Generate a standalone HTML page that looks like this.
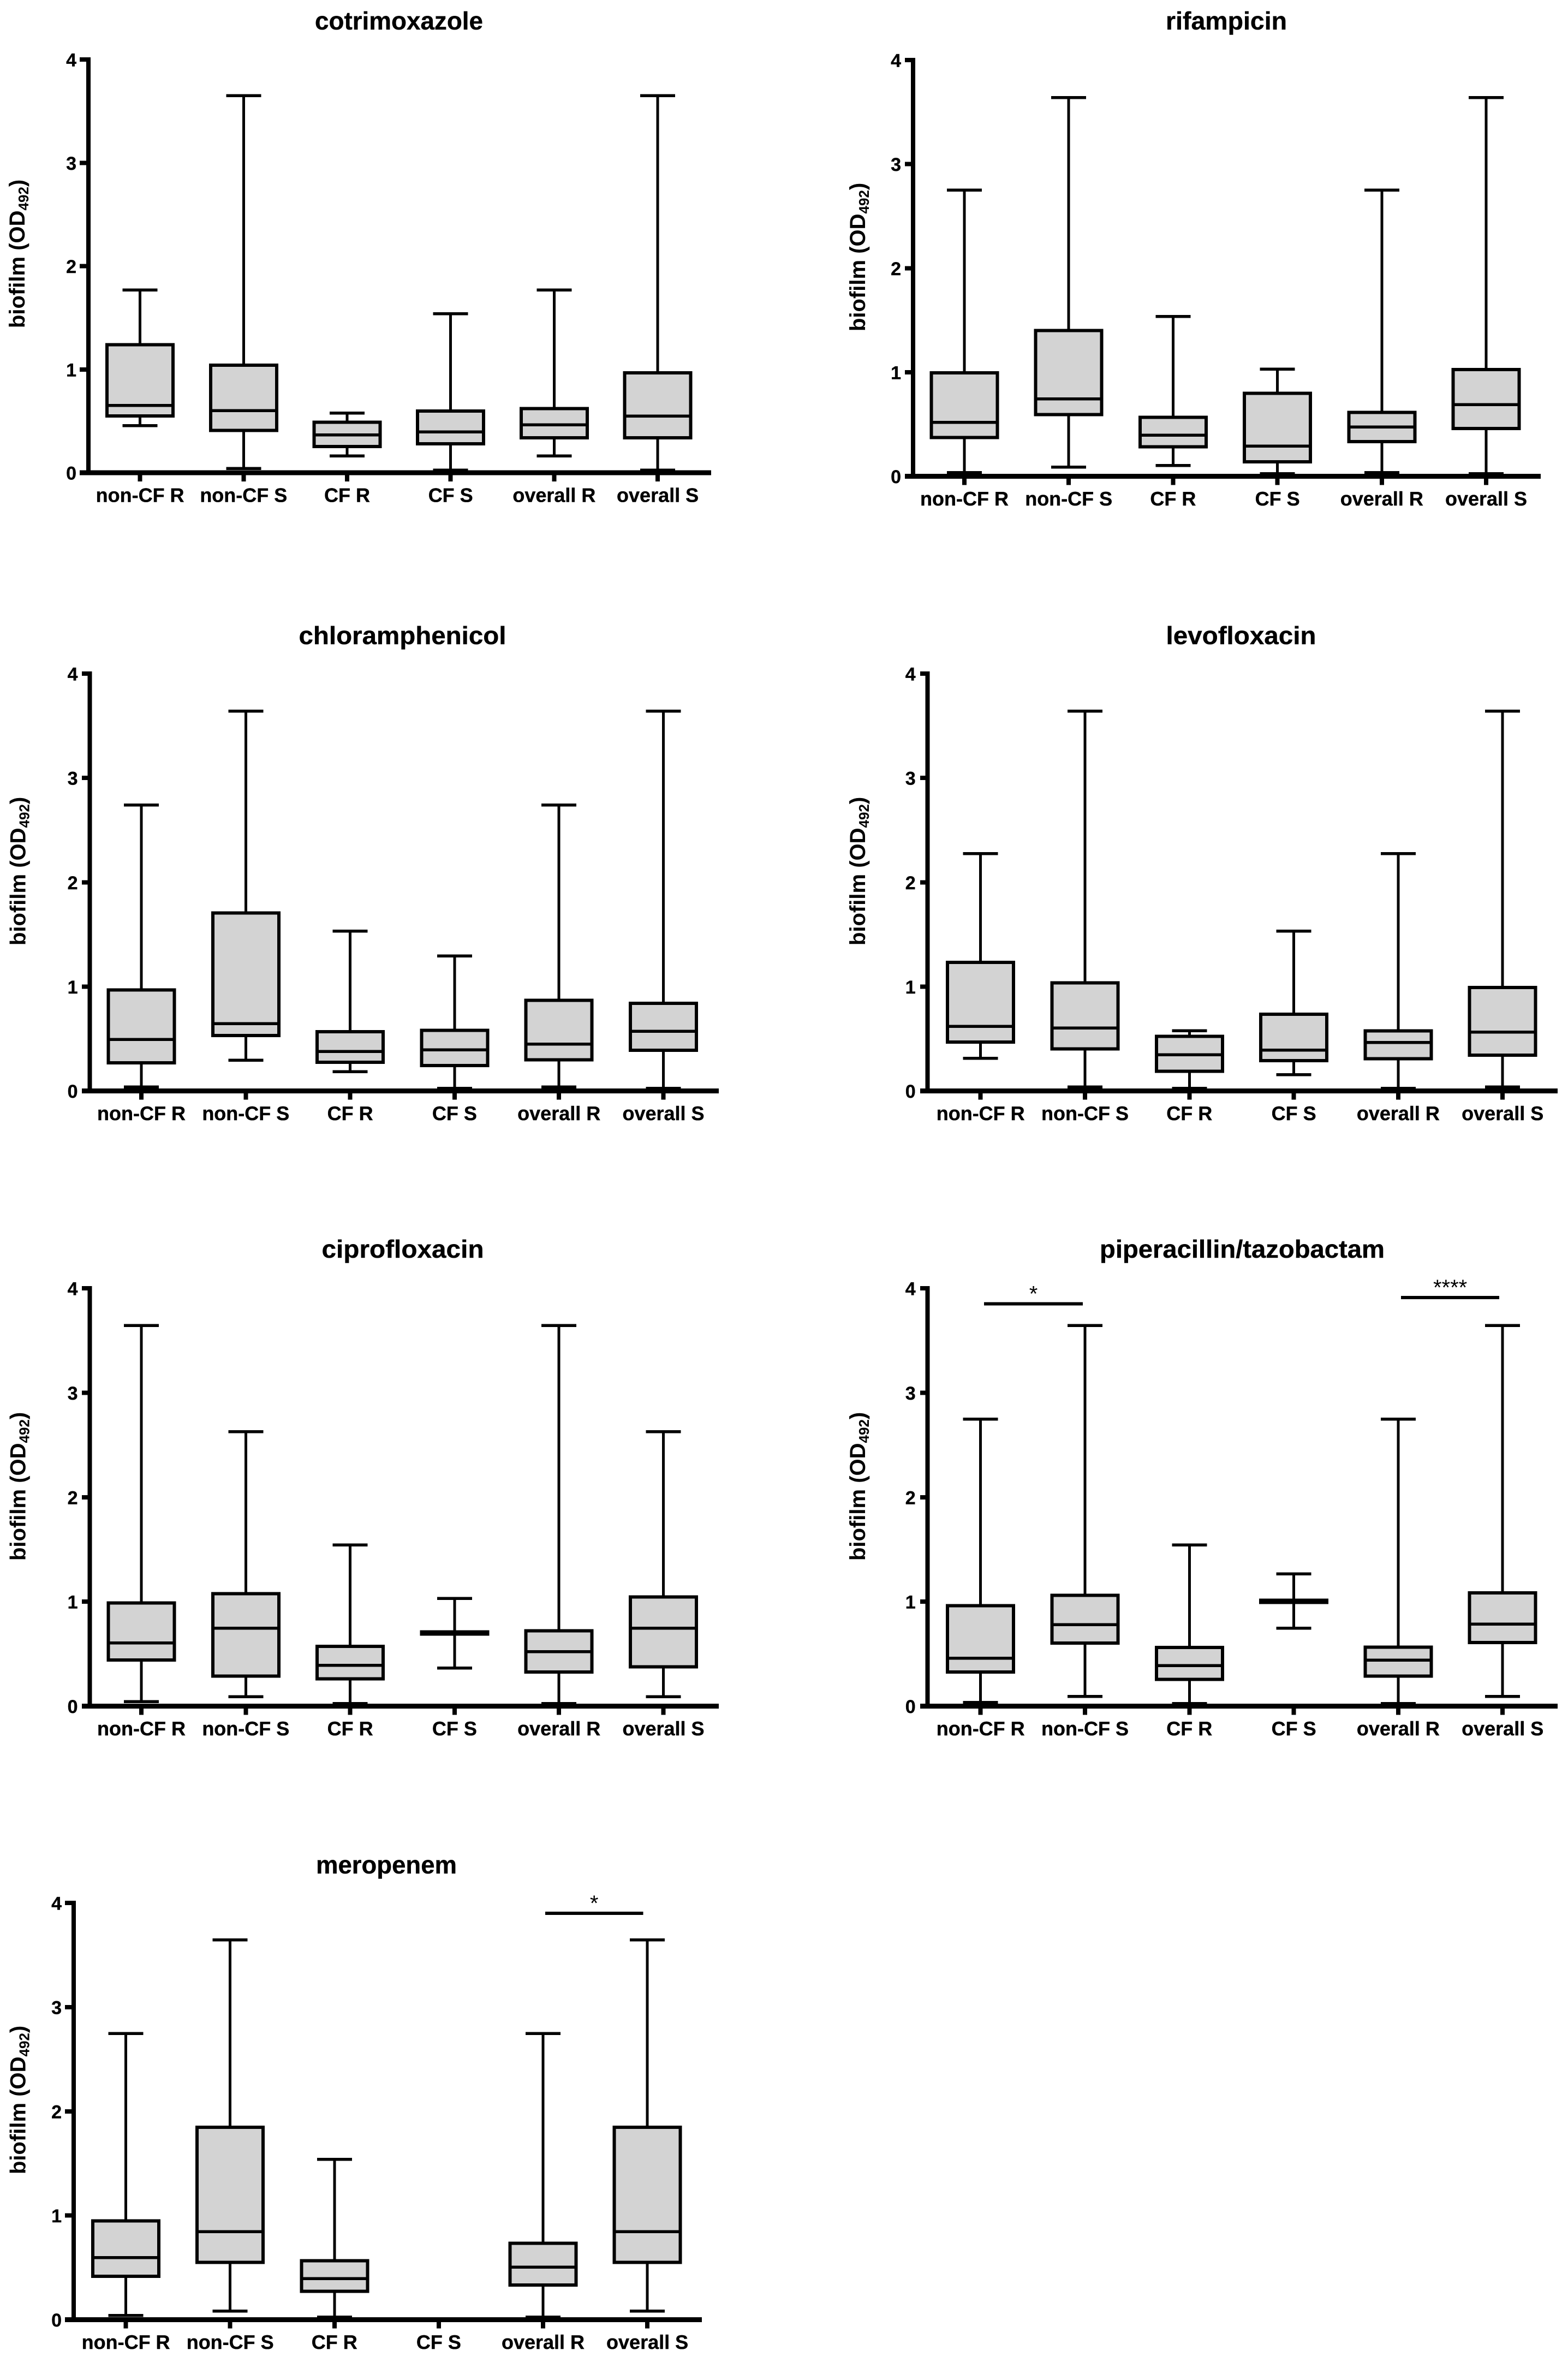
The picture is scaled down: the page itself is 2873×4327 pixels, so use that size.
<!DOCTYPE html>
<html lang="en">
<head>
<meta charset="utf-8">
<title>Biofilm formation by antibiotic susceptibility</title>
<style>
html,body{margin:0;padding:0;background:#fff;}
svg{display:block;}
text{font-family:"Liberation Sans",Arial,sans-serif;fill:#000;text-rendering:geometricPrecision;}
.title{font-size:46px;font-weight:700;text-anchor:middle;stroke:#000;stroke-width:.4px;}
.ytick{font-size:34px;font-weight:700;text-anchor:end;stroke:#000;stroke-width:.4px;}
.xtick{font-size:36px;font-weight:700;text-anchor:middle;stroke:#000;stroke-width:.4px;}
.ylabel{font-size:40px;font-weight:700;}
.star{font-size:40px;text-anchor:middle;}
</style>
</head>
<body>
<svg id="fig" xmlns="http://www.w3.org/2000/svg" width="2873" height="4327" viewBox="0 0 2873 4327">
<rect x="0" y="0" width="2873" height="4327" fill="#ffffff"/>
</svg>
<script>
const categories = ['non-CF R','non-CF S','CF R','CF S','overall R','overall S'];
const yTickValues = [0,1,2,3,4];

const cotrimoxazoleHigh = [1.77,3.65,0.577,1.54,1.77,3.65];
const cotrimoxazoleQ3 = [1.24,1.04,0.49,0.596,0.62,0.966];
const cotrimoxazoleMedian = [0.65,0.60,0.366,0.395,0.464,0.548];
const cotrimoxazoleQ1 = [0.55,0.41,0.253,0.279,0.337,0.337];
const cotrimoxazoleLow = [0.457,0.042,0.162,0.026,0.162,0.026];

const rifampicinHigh = [2.75,3.64,1.537,1.03,2.75,3.64];
const rifampicinQ3 = [0.994,1.40,0.566,0.797,0.614,1.026];
const rifampicinMedian = [0.518,0.743,0.395,0.289,0.473,0.688];
const rifampicinQ1 = [0.373,0.592,0.283,0.138,0.334,0.46];
const rifampicinLow = [0.035,0.087,0.103,0.026,0.035,0.026];

const chloramphenicolHigh = [2.74,3.64,1.533,1.293,2.74,3.64];
const chloramphenicolQ3 = [0.969,1.706,0.568,0.581,0.869,0.84];
const chloramphenicolMedian = [0.494,0.645,0.379,0.395,0.449,0.571];
const chloramphenicolQ1 = [0.269,0.532,0.276,0.244,0.298,0.391];
const chloramphenicolLow = [0.038,0.295,0.186,0.026,0.038,0.026];

const levofloxacinHigh = [2.274,3.64,0.577,1.533,2.274,3.64];
const levofloxacinQ3 = [1.232,1.036,0.523,0.735,0.577,0.991];
const levofloxacinMedian = [0.619,0.603,0.346,0.391,0.465,0.565];
const levofloxacinQ1 = [0.468,0.404,0.189,0.292,0.308,0.343];
const levofloxacinLow = [0.314,0.038,0.026,0.157,0.026,0.038];

const ciprofloxacinHigh = [3.644,2.628,1.542,1.032,3.644,2.628];
const ciprofloxacinQ3 = [0.987,1.077,0.571,0.71,0.721,1.045];
const ciprofloxacinMedian = [0.606,0.747,0.391,0.70,0.522,0.747];
const ciprofloxacinQ1 = [0.442,0.288,0.26,0.69,0.327,0.375];
const ciprofloxacinLow = [0.042,0.09,0.026,0.365,0.026,0.09];

const piperacillinHigh = [2.747,3.644,1.542,1.266,2.747,3.644];
const piperacillinQ3 = [0.962,1.061,0.561,1.013,0.564,1.083];
const piperacillinMedian = [0.458,0.779,0.388,1.003,0.439,0.785];
const piperacillinQ1 = [0.327,0.603,0.256,0.993,0.288,0.609];
const piperacillinLow = [0.035,0.093,0.026,0.747,0.026,0.093];

const meropenemHigh = [2.748,3.645,1.54,null,2.748,3.645];
const meropenemQ3 = [0.948,1.848,0.567,null,0.733,1.848];
const meropenemMedian = [0.596,0.845,0.394,null,0.506,0.845];
const meropenemQ1 = [0.416,0.551,0.272,null,0.333,0.551];
const meropenemLow = [0.042,0.083,0.026,null,0.026,0.083];

const piperacillinSigFrom = [0.033,4.027];
const piperacillinSigTo = [0.98,4.968];
const piperacillinSigLevel = [3.85,3.91];
const piperacillinSigLabel = ['*','****'];
const meropenemSigFrom = [4.02];
const meropenemSigTo = [4.96];
const meropenemSigLevel = [3.90];
const meropenemSigLabel = ['*'];

const layouts = [
  {title:'cotrimoxazole',titleX:731,titleY:54,titleW:308,axisX:162,left:146,right:1303,top:109,zero:866,first:256.6,step:189.7,labelX:45,labelY:601,
   hi:cotrimoxazoleHigh,q3:cotrimoxazoleQ3,med:cotrimoxazoleMedian,q1:cotrimoxazoleQ1,lo:cotrimoxazoleLow},
  {title:'rifampicin',titleX:2247,titleY:54,titleW:222,axisX:1673,left:1658,right:2823,top:110,zero:872.5,first:1767,step:191.2,labelX:1585,labelY:607,
   hi:rifampicinHigh,q3:rifampicinQ3,med:rifampicinMedian,q1:rifampicinQ1,lo:rifampicinLow},
  {title:'chloramphenicol',titleX:737.5,titleY:1180,titleW:380,axisX:164.5,left:150,right:1317,top:1234,zero:1998.6,first:259,step:191.3,labelX:46.5,labelY:1732,
   hi:chloramphenicolHigh,q3:chloramphenicolQ3,med:chloramphenicolMedian,q1:chloramphenicolQ1,lo:chloramphenicolLow},
  {title:'levofloxacin',titleX:2274,titleY:1180,titleW:275,axisX:1699.7,left:1686,right:2854,top:1234,zero:1998.6,first:1796.7,step:191.3,labelX:1585,labelY:1732,
   hi:levofloxacinHigh,q3:levofloxacinQ3,med:levofloxacinMedian,q1:levofloxacinQ1,lo:levofloxacinLow},
  {title:'ciprofloxacin',titleX:738,titleY:2304,titleW:297,axisX:164.5,left:150,right:1317,top:2360,zero:3125.5,first:259,step:191.3,labelX:46.5,labelY:2859,
   hi:ciprofloxacinHigh,q3:ciprofloxacinQ3,med:ciprofloxacinMedian,q1:ciprofloxacinQ1,lo:ciprofloxacinLow},
  {title:'piperacillin/tazobactam',titleX:2276,titleY:2304,titleW:522,axisX:1699.7,left:1686,right:2854,top:2360,zero:3125.5,first:1796.7,step:191.3,labelX:1585,labelY:2859,
   hi:piperacillinHigh,q3:piperacillinQ3,med:piperacillinMedian,q1:piperacillinQ1,lo:piperacillinLow,
   sigFrom:piperacillinSigFrom,sigTo:piperacillinSigTo,sigLevel:piperacillinSigLevel,sigLabel:piperacillinSigLabel},
  {title:'meropenem',titleX:708,titleY:3432,titleW:258,axisX:135,left:119,right:1286,top:3486,zero:4249.6,first:230.6,step:191.1,labelX:46.5,labelY:3983,
   hi:meropenemHigh,q3:meropenemQ3,med:meropenemMedian,q1:meropenemQ1,lo:meropenemLow,
   sigFrom:meropenemSigFrom,sigTo:meropenemSigTo,sigLevel:meropenemSigLevel,sigLabel:meropenemSigLabel}
];

const NS = 'http://www.w3.org/2000/svg';
function make(tag, attrs, parent){
  const node = document.createElementNS(NS, tag);
  for (const k in attrs) node.setAttribute(k, attrs[k]);
  parent.appendChild(node);
  return node;
}
function hLine(x1,x2,y,w,parent){
  return make('rect',{x:x1,y:y-w/2,width:x2-x1,height:w,fill:'#000','shape-rendering':'crispEdges'},parent);
}
function vLine(x,y1,y2,w,parent){
  return make('rect',{x:x-w/2,y:Math.min(y1,y2),width:w,height:Math.abs(y2-y1),fill:'#000','shape-rendering':'crispEdges'},parent);
}

const fig = document.getElementById('fig');
layouts.forEach(function(p){
  const yScale = function(v){ return p.zero - (p.zero - p.top) * v / 4; };
  const xScale = function(i){ return p.first + p.step * i; };

  const panel = make('g',{},fig);
  
  

  const title = make('text',{class:'title',x:p.titleX,y:p.titleY,textLength:p.titleW,lengthAdjust:'spacingAndGlyphs'},panel);
  title.textContent = p.title;
  
  

  const ylabel = make('text',{class:'ylabel',transform:'translate('+p.labelX+','+p.labelY+') rotate(-90)',x:0,y:0},panel);
  
  
  const t1 = make('tspan',{},ylabel);
  t1.textContent = 'biofilm (OD';
  const t2 = make('tspan',{dy:7,'font-size':26},ylabel);
  t2.textContent = '492';
  const t3 = make('tspan',{dy:-7},ylabel);
  t3.textContent = ')';

  categories.forEach(function(cat,i){
    const hi = p.hi[i], q3 = p.q3[i], med = p.med[i], q1 = p.q1[i], lo = p.lo[i];
    if (hi === null) return;
    const cx = xScale(i);
    const group = make('g',{},panel);
    
    

    const stem = vLine(cx,yScale(hi),yScale(lo),5,group);
    
    

    const capHi = hLine(cx-32,cx+32,yScale(hi),5.5,group);
    
    

    const capLo = hLine(cx-32,cx+32,yScale(lo),5.5,group);
    
    

    const box = make('rect',{x:cx-60.5,y:yScale(q3),width:121,height:yScale(q1)-yScale(q3),fill:'#d3d3d3',stroke:'#000','stroke-width':6,'shape-rendering':'crispEdges'},group);
    
    

    const median = hLine(cx-63,cx+63,yScale(med),5.5,group);
    
    
  });

  const yAxis = vLine(p.axisX,p.top-4,p.zero,8,panel);
  
  

  const xAxis = hLine(p.left,p.right,p.zero,9,panel);
  
  

  yTickValues.forEach(function(v){
    const ty = yScale(v);
    const tick = hLine(p.left,p.axisX,ty,8,panel);
    
    
    const lab = make('text',{class:'ytick',x:p.axisX-22,y:ty+12.5},panel);
    lab.textContent = String(v);
    
    
  });

  categories.forEach(function(cat,i){
    const cx = xScale(i);
    const tick = vLine(cx,p.zero,p.zero+16,8,panel);
    
    
    const lab = make('text',{class:'xtick',x:cx,y:p.zero+53.5},panel);
    lab.textContent = cat;
    
    
  });

  if (p.sigLevel) {
    p.sigLevel.forEach(function(level,j){
      const x1 = xScale(p.sigFrom[j]), x2 = xScale(p.sigTo[j]), yy = yScale(level);
      const bar = hLine(x1,x2,yy,6,panel);
      
      
      const star = make('text',{class:'star',x:(x1+x2)/2,y:yy-5},panel);
      star.textContent = p.sigLabel[j];
      
      
    });
  }
});
</script>
</body>
</html>
